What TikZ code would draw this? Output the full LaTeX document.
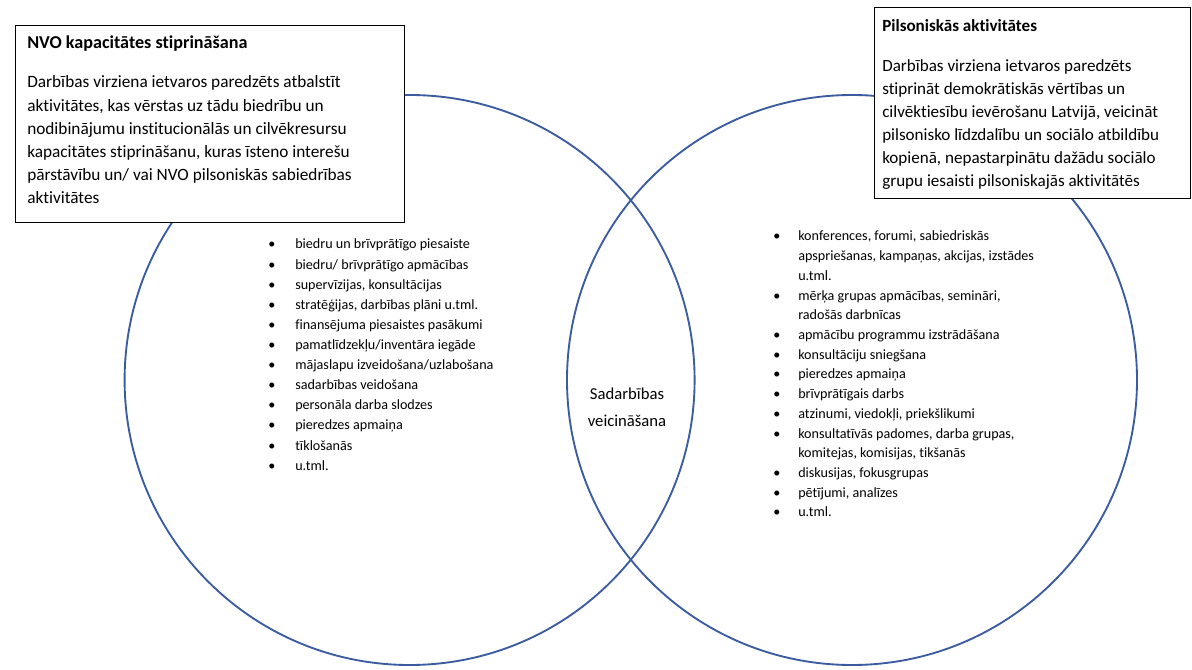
\documentclass[tikz,border=0pt]{standalone}
\usepackage{fontspec}
\setmainfont{Carlito}[Ligatures=NoCommon]
\usepackage{xcolor}
\definecolor{vennblue}{RGB}{59,92,160}
\newcommand{\bul}[1]{\llap{\makebox[#1][l]{\textbullet}}}

\begin{document}
\begin{tikzpicture}[x=0.75pt,y=-0.75pt,font=\fontsize{12.5}{15}\selectfont,
  venn/.style={circle,draw=vennblue,line width=1.4pt,minimum size=427.5pt,inner sep=0pt},
  infobox/.style={draw=black,line width=0.75pt,fill=white,anchor=north west,inner sep=0pt},
  txt/.style={anchor=base west,inner sep=0pt,font=\fontsize{12.8}{15}\selectfont},
  listtxt/.style={anchor=base west,inner sep=0pt,font=\fontsize{10.6}{12}\selectfont}]
  \useasboundingbox (0,0) rectangle (1192,670);
  % the two circles
  \node[venn] (nvo) at (409.6,380) {};
  \node[venn] (pils) at (852,380) {};
  % left box
  \node[infobox,minimum width=291.75pt,minimum height=147.75pt] (nvobox) at (15,25) {};
  \node[txt,font=\fontsize{13.6}{15}\selectfont\bfseries] (nvotitle) at (27,49) {NVO kapacitātes stiprināšana};
  \foreach \t [count=\i from 0] in {{Darbības virziena ietvaros paredzēts atbalstīt},
    {aktivitātes, kas vērstas uz tādu biedrību un},
    {nodibinājumu institucionālās un cilvēkresursu},
    {kapacitātes stiprināšanu, kuras īsteno interešu},
    {pārstāvību un/ vai NVO pilsoniskās sabiedrības},
    {aktivitātes}}
    \node[txt,font=\fontsize{12.95}{15}\selectfont] (nvo\i) at (27,88+23.2*\i) {\t};
  % right box
  \node[infobox,minimum width=237pt,minimum height=143.25pt] (pilsbox) at (874,7) {};
  \node[txt,font=\fontsize{12.8}{15}\selectfont\bfseries] (pilstitle) at (882,32) {Pilsoniskās aktivitātes};
  \foreach \t [count=\i from 0] in {{Darbības virziena ietvaros paredzēts},
    {stiprināt demokrātiskās vērtības un},
    {cilvēktiesību ievērošanu Latvijā, veicināt},
    {pilsonisko līdzdalību un sociālo atbildību},
    {kopienā, nepastarpinātu dažādu sociālo},
    {grupu iesaisti pilsoniskajās aktivitātēs}}
    \node[txt] (pils\i) at (882,72+23*\i) {\t};
  % left list
  \foreach \t [count=\i from 0] in {{biedru un brīvprātīgo piesaiste},
    {biedru/ brīvprātīgo apmācības},
    {supervīzijas, konsultācijas},
    {stratēģijas, darbības plāni u.tml.},
    {finansējuma piesaistes pasākumi},
    {pamatlīdzekļu/inventāra iegāde},
    {mājaslapu izveidošana/uzlabošana},
    {sadarbības veidošana},
    {personāla darba slodzes},
    {pieredzes apmaiņa},
    {tīklošanās},
    {u.tml.}}
    \node[listtxt] (la\i) at (295,249+20.1*\i) {\bul{20.25pt}\t};
  % right list
  \foreach \t [count=\i from 0] in {{\bul{18.75pt}konferences, forumi, sabiedriskās},
    {apspriešanas, kampaņas, akcijas, izstādes},
    {u.tml.},
    {\bul{18.75pt}mērķa grupas apmācības, semināri,},
    {radošās darbnīcas},
    {\bul{18.75pt}apmācību programmu izstrādāšana},
    {\bul{18.75pt}konsultāciju sniegšana},
    {\bul{18.75pt}pieredzes apmaiņa},
    {\bul{18.75pt}brīvprātīgais darbs},
    {\bul{18.75pt}atzinumi, viedokļi, priekšlikumi},
    {\bul{18.75pt}konsultatīvās padomes, darba grupas,},
    {komitejas, komisijas, tikšanās},
    {\bul{18.75pt}diskusijas, fokusgrupas},
    {\bul{18.75pt}pētījumi, analīzes},
    {\bul{18.75pt}u.tml.}}
    \node[listtxt] (ra\i) at (798,241+19.7*\i) {\t};
  % overlap label
  \node[anchor=base] (sad1) at (627,399) {Sadarbības};
  \node[anchor=base] (sad2) at (627,426) {veicināšana};
\end{tikzpicture}
\end{document}
